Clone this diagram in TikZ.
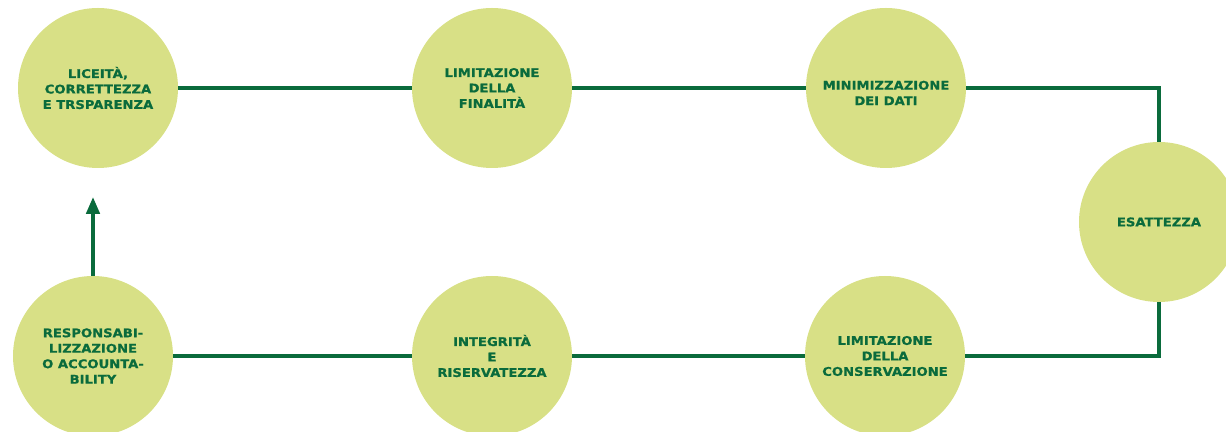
\documentclass[tikz,border=0pt]{standalone}
\usepackage{fontspec}
\setmainfont{DejaVu Sans}[BoldFont={DejaVu Sans Bold}, BoldFeatures={FakeBold=0.8}, FakeStretch=1.1]
\usetikzlibrary{arrows.meta,positioning}

\begin{document}
\begin{tikzpicture}[
        principio/.style={circle, fill=gdprlime, text=gdprgreen, minimum size=4cm, inner sep=0pt,
            align=center, font=\fontsize{8.5}{11}\selectfont\bfseries},
        legame/.style={line width=2.6pt, gdprgreen}
    ]
        \definecolor{gdprlime}{RGB}{216,224,134}
        \definecolor{gdprgreen}{RGB}{10,107,60}

        \useasboundingbox (0,0) rectangle (30.65,10.8);

        % Top row
        \node[principio] (lic) at (2.45,8.6) {LICEITÀ,\\CORRETTEZZA\\E TRSPARENZA};
        \node[principio] (fin) at (12.3,8.6) {LIMITAZIONE\\DELLA\\FINALITÀ};
        \node[principio] (min) at (22.15,8.6) {\rule{0pt}{0.47cm}MINIMIZZAZIONE\\DEI DATI};

        % Right - Esattezza
        \node[principio] (esa) at (28.975,5.25) {ESATTEZZA};

        % Bottom row
        \node[principio] (con) at (22.125,1.9) {LIMITAZIONE\\DELLA\\CONSERVAZIONE};
        \node[principio] (int) at (12.3,1.9) {INTEGRITÀ\\E\\RISERVATEZZA};
        \node[principio] (res) at (2.325,1.9) {RESPONSABI-\\LIZZAZIONE\\O ACCOUNTA-\\BILITY};

        % Connecting lines
        \draw[legame] (lic) -- (fin);
        \draw[legame] (fin) -- (min);
        \draw[legame] (min) -- (min -| esa) -- (esa);
        \draw[legame] (esa) -- (esa |- con) -- (con);
        \draw[legame] (con) -- (int);
        \draw[legame] (int) -- (res);

        % Arrow back to the start
        \coordinate (freccia) at (2.325,5.875);
        \draw[legame, -{Triangle[length=0.42cm, width=0.33cm]}] (res) -- (freccia);
    \end{tikzpicture}
\end{document}
